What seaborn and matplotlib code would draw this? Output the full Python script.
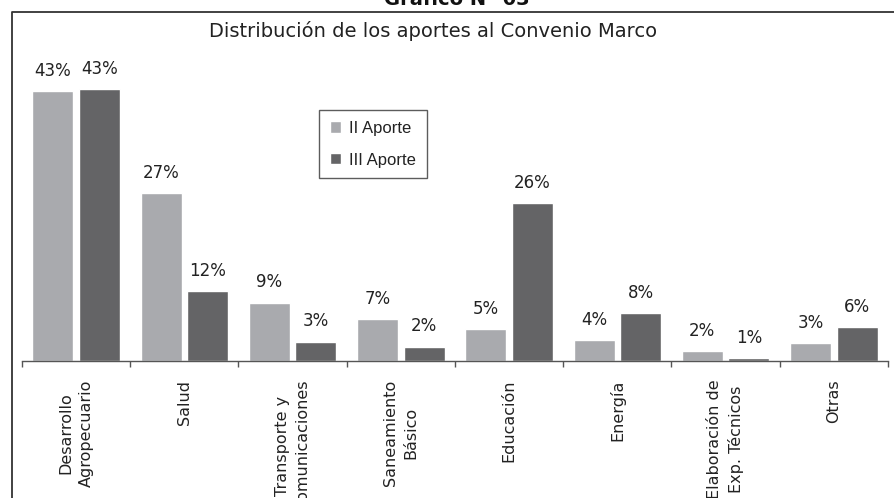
import matplotlib
matplotlib.use("Agg")
import matplotlib.pyplot as plt
from matplotlib.lines import Line2D
import seaborn as sns
import pandas as pd
import numpy as np

categories = ["Desarrollo\nAgropecuario", "Salud", "Transporte y\nComunicaciones",
              "Saneamiento\nBásico", "Educación", "Energía",
              "Elaboración de\nExp. Técnicos", "Otras"]
series_names = ["II Aporte", "III Aporte"]
aporte_ii = [43.0, 26.8, 9.3, 6.7, 5.1, 3.4, 1.6, 2.9]
aporte_iii = [43.3, 11.2, 3.1, 2.3, 25.2, 7.7, 0.4, 5.4]
labels_ii = ["43%", "27%", "9%", "7%", "5%", "4%", "2%", "3%"]
labels_iii = ["43%", "12%", "3%", "2%", "26%", "8%", "1%", "6%"]
title = "Distribución de los aportes al Convenio Marco"
header = "Gráfico N° 03"

sns.set_theme(style="white")
plt.rcParams['font.family'] = ['DejaVu Sans']

W, H = 895, 498
fig = plt.figure(figsize=(W / 100, H / 100), dpi=100)
fig.patch.set_facecolor("white")

ax_left, ax_right, ax_bottom, ax_top = 22, 888, 361, 30
ax = fig.add_axes([ax_left / W, 1 - ax_bottom / H, (ax_right - ax_left) / W, (ax_bottom - ax_top) / H])
ax.set_facecolor("none")

df = pd.DataFrame({
    "cat": categories * 2,
    "val": aporte_ii + aporte_iii,
    "serie": [series_names[0]] * len(categories) + [series_names[1]] * len(categories),
})
light, dark = "#A9AAAE", "#646466"
sns.barplot(data=df, x="cat", y="val", hue="serie", order=categories,
            hue_order=series_names, palette=[light, dark], saturation=1,
            width=0.86, gap=0.116, ax=ax, errorbar=None)

ax.set_xlim(-0.5, len(categories) - 0.5)
ax.set_ylim(0, (ax_bottom - ax_top) / 6.28)

# value labels
for cont, labs in zip(ax.containers, [labels_ii, labels_iii]):
    for patch, lab in zip(cont.patches, labs):
        x = patch.get_x() + patch.get_width() / 2
        y = patch.get_height()
        ax.annotate(lab, (x, y), xytext=(0, 14.5), textcoords="offset points",
                    ha="center", va="center", fontsize=12, color="#222222")

for s in ["left", "right", "top"]:
    ax.spines[s].set_visible(False)
ax.spines["bottom"].set_color("#555555")
ax.spines["bottom"].set_linewidth(1.0)
ax.set_yticks([])
ax.set_xlabel("")
ax.set_ylabel("")

ax.set_xticks(range(len(categories)))
ax.set_xticklabels(categories, rotation=90, fontsize=11.5, color="#222222",
                   linespacing=1.45, ha="center", va="top")
ax.tick_params(axis="x", which="major", length=0, pad=13.5)
ax.set_xticks(np.arange(-0.5, len(categories)), minor=True)
ax.tick_params(axis="x", which="minor", length=4, width=1, color="#555555",
               direction="out", bottom=True)

# legend
leg = ax.legend(loc="upper left", bbox_to_anchor=(319 / W, 1 - 110 / H),
                bbox_transform=fig.transFigure, frameon=True, fancybox=False,
                prop={"family": ["Liberation Sans"], "size": 12},
                handlelength=0.65, handleheight=0.65, handletextpad=0.5,
                labelspacing=1.0, borderpad=0.65, borderaxespad=0)
leg.get_frame().set_edgecolor("#333333")
leg.get_frame().set_linewidth(1.0)
for t in leg.get_texts():
    t.set_color("#222222")

# title
fig.text(433.5 / W, 1 - 37 / H, title, ha="center", va="baseline",
         fontsize=14, color="#222222")
fig.text(457 / W, 1 - 5 / H, header, ha="center", va="baseline",
         fontsize=14, fontweight="bold", color="#111111")

# outer frame (clipped by image edges)
fig.add_artist(Line2D([12.5 / W, 12.5 / W, 1.0], [0.0, 1 - 12 / H, 1 - 12 / H],
                      transform=fig.transFigure, color="#333333", linewidth=1.3))

fig.savefig("out.png", dpi=100, facecolor="white")
